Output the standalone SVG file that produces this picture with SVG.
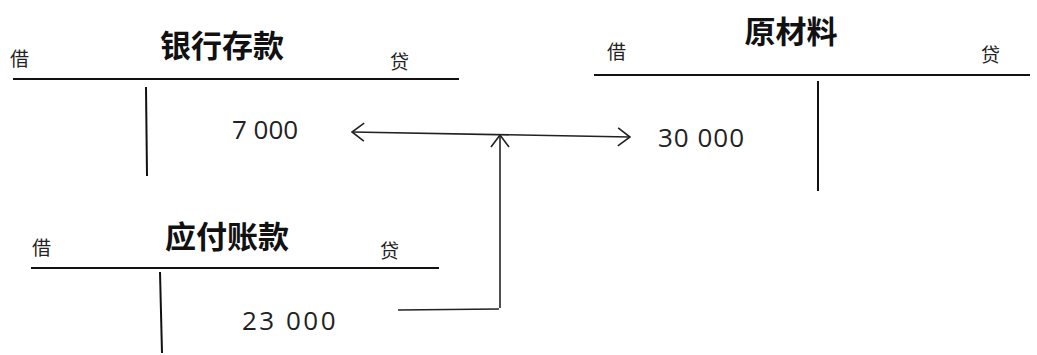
<svg xmlns="http://www.w3.org/2000/svg" width="1037" height="355" viewBox="0 0 1037 355">
<style>
.ln{stroke:#111;stroke-width:2;fill:none}
.title{font-family:"Noto Sans CJK SC","Noto Sans",sans-serif;font-weight:bold;font-size:31px;fill:#111;text-anchor:middle}
.side{font-family:"Noto Sans CJK SC","Noto Sans",sans-serif;font-size:19px;fill:#222}
.num{font-family:"Open Sans","Liberation Sans",sans-serif;font-size:26px;fill:#222}
.con{stroke:#222;stroke-width:1.6;fill:none}
</style>
<defs>
<marker id="arr" viewBox="0 0 14 20" refX="13" refY="10" markerWidth="14" markerHeight="20" markerUnits="userSpaceOnUse" orient="auto-start-reverse">
<path d="M1,1 L13,10 L1,19" fill="none" stroke="#222" stroke-width="1.6"/>
</marker>
</defs>
<rect width="1037" height="355" fill="#fff"/>
<g id="bank">
<text class="title" x="222" y="57">银行存款</text>
<text class="side" x="10" y="66">借</text>
<text class="side" x="390" y="69">贷</text>
<line class="ln" x1="13" y1="79" x2="459" y2="79"/>
<line class="ln" x1="146" y1="87" x2="147" y2="176"/>
<text class="num" x="232" y="139" letter-spacing="0">7 000</text>
</g>
<g id="material">
<text class="title" x="791" y="43">原材料</text>
<text class="side" x="607" y="59">借</text>
<text class="side" x="981" y="62">贷</text>
<line class="ln" x1="594" y1="75" x2="1030" y2="75"/>
<line class="ln" x1="818" y1="81" x2="818" y2="191"/>
<text class="num" x="658" y="147" letter-spacing="1">30 000</text>
</g>
<g id="payable">
<text class="title" x="227" y="248">应付账款</text>
<text class="side" x="32" y="255">借</text>
<text class="side" x="380" y="258">贷</text>
<line class="ln" x1="31" y1="268" x2="439" y2="268"/>
<line class="ln" x1="160" y1="272" x2="162" y2="353"/>
<text class="num" x="242" y="330" font-size="25" letter-spacing="2.5">23  000</text>
</g>
<g id="connectors">
<line class="con" x1="352" y1="132" x2="630" y2="137" marker-start="url(#arr)" marker-end="url(#arr)"/>
<line class="con" x1="500" y1="308" x2="500" y2="135" marker-end="url(#arr)"/>
<line class="con" x1="398" y1="310" x2="499" y2="309"/>
</g>
</svg>
